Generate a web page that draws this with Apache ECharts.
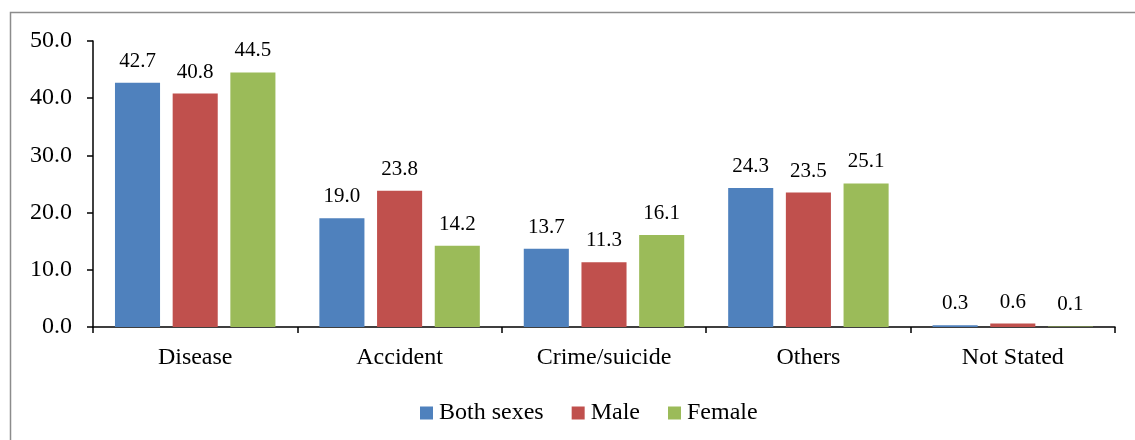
<!DOCTYPE html>
<html><head><meta charset="utf-8">
<script src="https://cdn.jsdelivr.net/npm/echarts@6/dist/echarts.min.js"></script>
<style>html,body{margin:0;padding:0;background:#fff}#c{width:1135px;height:440px}</style>
</head><body><div id="c"></div>
<script>
const categories = ['Disease', 'Accident', 'Crime/suicide', 'Others', 'Not Stated'];
const bothSexes = [42.7, 19.0, 13.7, 24.3, 0.3];
const male = [40.8, 23.8, 11.3, 23.5, 0.6];
const female = [44.5, 14.2, 16.1, 25.1, 0.1];
const seriesNames = ['Both sexes', 'Male', 'Female'];
const colors = ['#4F81BD', '#C0504D', '#9BBB59'];
const FONT = 'Liberation Serif';
const chart = echarts.init(document.getElementById('c'));
function mk(name, data, color) {
  return {
    name, type: 'bar', data,
    itemStyle: { color },
    barGap: '28%', barCategoryGap: '21.5%',
    label: { show: true, position: 'top', distance: 11, color: '#000', fontFamily: FONT, fontSize: 21,
      formatter: p => p.value.toFixed(1) }
  };
}
chart.setOption({
  animation: false,
  graphic: [{ type: 'rect', shape: { x: 10.5, y: 12.5, width: 1300, height: 600 },
    style: { fill: 'none', stroke: '#8c8c8c', lineWidth: 1.5 }, silent: true }],
  grid: { left: 93, right: 20, top: 41, bottom: 113 },
  legend: { top: 396, left: 415, itemWidth: 13, itemHeight: 13, itemGap: 28,
    textStyle: { fontFamily: FONT, fontSize: 24, color: '#000', padding: [0, 0, 0, 1] },
    data: seriesNames.map((n, i) => ({ name: n, icon: 'rect' })) },
  xAxis: { type: 'category', data: categories,
    axisLine: { lineStyle: { color: '#000', width: 1.5 } },
    axisTick: { show: true, length: 6, lineStyle: { color: '#000', width: 1.5 } },
    axisLabel: { color: '#000', fontFamily: FONT, fontSize: 24, margin: 19 } },
  yAxis: { type: 'value', min: 0, max: 50, interval: 10,
    axisLine: { show: true, lineStyle: { color: '#000', width: 1.5 } },
    axisTick: { show: true, inside: false, length: 6, lineStyle: { color: '#000', width: 1.5 } },
    splitLine: { show: false },
    axisLabel: { color: '#000', fontFamily: FONT, fontSize: 24, margin: 21, formatter: v => v.toFixed(1) } },
  series: [mk(seriesNames[0], bothSexes, colors[0]), mk(seriesNames[1], male, colors[1]), mk(seriesNames[2], female, colors[2])]
});
</script></body></html>
